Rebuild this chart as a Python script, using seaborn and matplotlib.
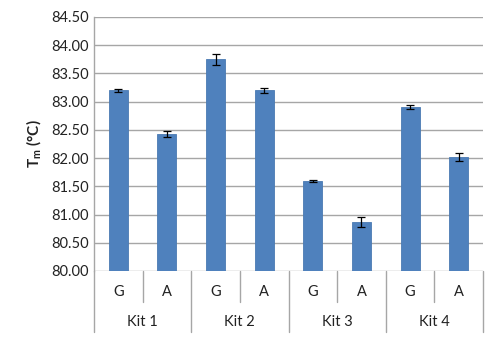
import matplotlib
matplotlib.use("Agg")
import matplotlib.pyplot as plt
import seaborn as sns
import pandas as pd
import numpy as np

kits = ["Kit 1", "Kit 1", "Kit 2", "Kit 2", "Kit 3", "Kit 3", "Kit 4", "Kit 4"]
alleles = ["G", "A", "G", "A", "G", "A", "G", "A"]
tm_values = [83.20, 82.43, 83.75, 83.20, 81.60, 80.87, 82.90, 82.02]
tm_errors = [0.02, 0.055, 0.10, 0.045, 0.02, 0.085, 0.035, 0.065]
kit_labels = ["Kit 1", "Kit 2", "Kit 3", "Kit 4"]
y_ticks = [80.0, 80.5, 81.0, 81.5, 82.0, 82.5, 83.0, 83.5, 84.0, 84.5]

sns.set_theme(style="white")
plt.rcParams["font.family"] = ["Lato", "DejaVu Sans"]

df = pd.DataFrame({"pos": [f"{k}-{a}" for k, a in zip(kits, alleles)],
                   "tm": tm_values})

fig = plt.figure(figsize=(5, 3.4), dpi=100)
ax = fig.add_axes([0.188, 0.203, 0.778, 0.747])

grid_color = "#a6a6a6"
for t in y_ticks:
    ax.axhline(t, color=grid_color, lw=1.0, zorder=0)

sns.barplot(data=df, x="pos", y="tm", color="#4F81BD", width=0.39,
            saturation=1, edgecolor="#4a7ab3", linewidth=0.6, ax=ax, zorder=2)
ax.errorbar(np.arange(len(tm_values)), tm_values, yerr=tm_errors, fmt="none",
            ecolor="black", elinewidth=0.9, capsize=3, capthick=0.9, zorder=3)

ax.set_ylim(80.0, 84.5)
ax.set_xlim(-0.5, len(tm_values) - 0.5)
ax.set_yticks(y_ticks)
ax.set_yticklabels([f"{t:.2f}" for t in y_ticks], fontsize=10.5, color="#222222")
ax.tick_params(axis="y", length=0, pad=4)
ax.set_xticks([])
ax.set_xlabel("")
ax.set_ylabel("T$_\\mathregular{m}$ (°C)", fontsize=11, fontweight="bold",
              labelpad=5, color="#222222")
for s in ["top", "right", "bottom"]:
    ax.spines[s].set_visible(False)
ax.spines["left"].set_color(grid_color)
ax.spines["left"].set_linewidth(1.0)

# multi-level category axis
trans = ax.get_xaxis_transform()
n = len(tm_values)
px = 1.0 / (0.747 * 340)  # axes fraction per pixel
inner_bottom = -31 * px
outer_bottom = -61 * px
for i in range(n + 1):
    x = i - 0.5
    bottom = outer_bottom if i % 2 == 0 else inner_bottom
    ax.plot([x, x], [0, bottom], transform=trans, color=grid_color, lw=1.0,
            clip_on=False)
for i, a in enumerate(alleles):
    ax.text(i, -21 * px, a, transform=trans, ha="center", va="center",
            fontsize=10.5, color="#222222")
for j, k in enumerate(kit_labels):
    ax.text(2 * j + 0.5, -51 * px, k, transform=trans, ha="center",
            va="center", fontsize=10.5, color="#222222")

fig.savefig("out.png", dpi=100)
